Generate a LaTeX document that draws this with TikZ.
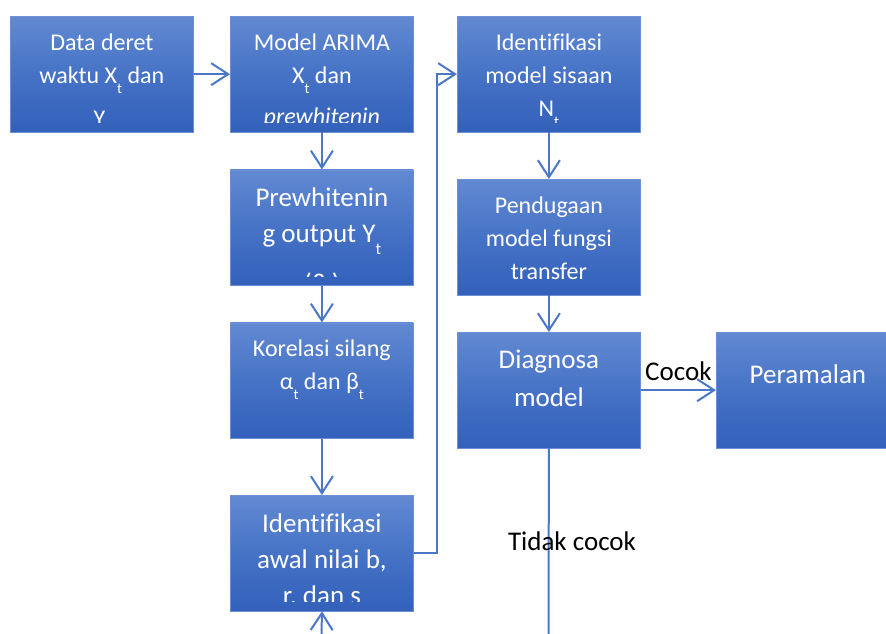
\documentclass[tikz,border=0pt]{standalone}
\usepackage{fontspec}
\setmainfont{Carlito}[Ligatures=NoCommon]
\usetikzlibrary{arrows.meta,positioning}
\definecolor{boxtop}{HTML}{6289D2}
\definecolor{boxmid}{HTML}{4673C6}
\definecolor{boxbot}{HTML}{3360BA}
\definecolor{boxedge}{HTML}{6B90D5}
\definecolor{linkblue}{HTML}{4A77C8}

% lowered subscript t, as in the source document
\newcommand{\tsub}{\raisebox{-0.42em}{\scalebox{0.62}{t}}}
% text of a box, cut off at the inner edge of the box
\newcommand{\boxtext}[4]{%
  \begin{scope}
    \clip ([xshift=4pt,yshift=-8pt]#1.north west) rectangle ([xshift=-4pt,yshift=9.5pt]#1.south east);
    \node[#2] (#1-text) at ([yshift=-#3]#1.north) {\strut #4};
  \end{scope}}

\tikzset{
  flowbox/.style={draw=boxedge,line width=0.8pt,top color=boxtop,bottom color=boxbot,
    middle color=boxmid,minimum width=183pt,minimum height=115.5pt,inner sep=0pt,anchor=north west},
  smalltext/.style={text=white,align=center,inner sep=0pt,anchor=north,font=\fontsize{24}{33}\selectfont},
  bigtext/.style={text=white,align=center,inner sep=0pt,anchor=north,font=\fontsize{27}{36}\selectfont},
  link/.style={draw=linkblue,line width=2pt},
  arrowlink/.style={link,-{Straight Barb[length=17pt,width=22pt]}},
  flowlabel/.style={text=black,inner sep=0pt,font=\fontsize{27}{36}\selectfont}
}

\begin{document}
\begin{tikzpicture}[x=1pt,y=-1pt]
  \useasboundingbox (0,0) rectangle (886,634);
  \clip (0,0) rectangle (886,634);
  \node[flowbox] (data) at (10,16) {};
  \node[flowbox] (arima) at (230,16) {};
  \node[flowbox] (sisaan) at (457,16) {};
  \node[flowbox] (prewhite) at (230,169.5) {};
  \node[flowbox] (fungsi) at (457,179) {};
  \node[flowbox] (korelasi) at (230,322.5) {};
  \node[flowbox] (diag) at (457,332) {};
  \node[flowbox] (ramal) at (716,332) {};
  \node[flowbox] (awal) at (230,495) {};
  \coordinate (diagend) at (548.5,640);
  \coordinate (backstart) at (321.5,640);

  \draw[arrowlink] (data) -- (arima);
  \draw[arrowlink] (arima) -- (prewhite);
  \draw[arrowlink] (prewhite) -- (korelasi);
  \draw[arrowlink] (korelasi) -- (awal);
  \draw[arrowlink] (awal.east) -- ++(23,0) |- (sisaan.west);
  \draw[arrowlink] (sisaan) -- (fungsi);
  \draw[arrowlink] (fungsi) -- (diag);
  \draw[arrowlink] (diag) -- node[flowlabel,anchor=base,yshift=10pt] (cocok) {Cocok} (ramal);
  \draw[link] (diag.south) -- (diagend);
  \draw[arrowlink] (backstart) -- (awal.south);
  \node[flowlabel,anchor=base] (tidak) at (572,550) {Tidak cocok};

  \boxtext{data}{smalltext}{11pt}{Data deret\\waktu X\tsub{} dan\\[10pt]Y\tsub}
  \boxtext{arima}{smalltext}{11pt}{Model ARIMA\\X\tsub{} dan\\[8pt]\textit{prewhitenin}}
  \boxtext{sisaan}{smalltext}{11pt}{Identifikasi\\model sisaan\\N\tsub}
  \boxtext{prewhite}{bigtext}{12pt}{Prewhitenin\\g output Y\tsub\\[14pt](β\tsub)}
  \boxtext{fungsi}{smalltext}{11pt}{Pendugaan\\model fungsi\\transfer}
  \boxtext{korelasi}{smalltext}{11pt}{Korelasi silang\\α\tsub{} dan β\tsub}
  \boxtext{diag}{bigtext}{11pt}{Diagnosa\\[2pt]model}
  \boxtext{ramal}{bigtext}{26pt}{Peramalan}
  \boxtext{awal}{bigtext}{12pt}{Identifikasi\\awal nilai b,\\r, dan s}
\end{tikzpicture}
\end{document}
